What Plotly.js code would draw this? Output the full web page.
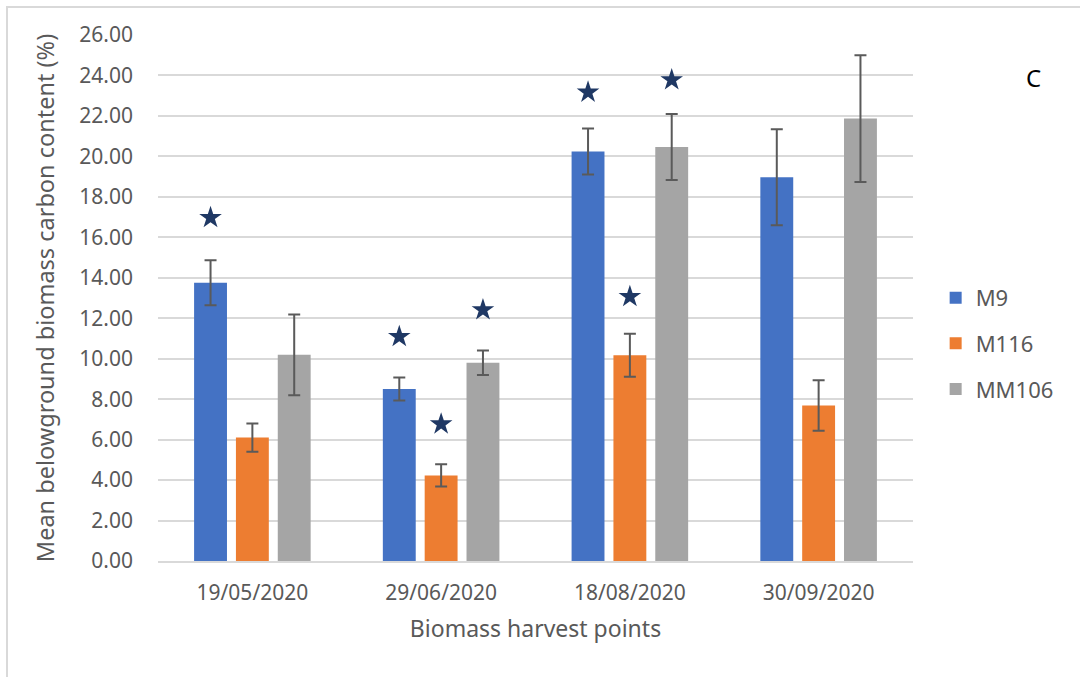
<!DOCTYPE html>
<html>
<head>
<meta charset="utf-8">
<script src="https://cdn.plot.ly/plotly-3.0.1.min.js"></script>
<style>
  html, body { margin: 0; padding: 0; background: #ffffff; }
  #frame { position: absolute; left: 6px; top: 6px; width: 1080px; height: 680px;
           border-left: 2px solid #d9d9d9; border-top: 2px solid #d9d9d9; box-sizing: border-box; pointer-events: none; }
  #chart { width: 1080px; height: 677px; }
</style>
</head>
<body>
<div id="chart"></div>
<div id="frame"></div>
<script>
// Harvest dates
const harvestDates = ['19/05/2020', '29/06/2020', '18/08/2020', '30/09/2020'];

// Mean belowground biomass carbon content (%) per rootstock
const m9Mean    = [13.75, 8.50, 20.24, 18.97];
const m116Mean  = [6.10, 4.23, 10.17, 7.69];
const mm106Mean = [10.19, 9.80, 20.46, 21.87];

// Error (±) per rootstock
const m9Err    = [1.11, 0.57, 1.14, 2.37];
const m116Err  = [0.70, 0.55, 1.06, 1.25];
const mm106Err = [2.00, 0.61, 1.63, 3.13];

// Significance star heights (null = no star)
const m9Star    = [16.97, 11.09, 23.17, null];
const m116Star  = [null, 6.77, 13.07, null];
const mm106Star = [null, 12.41, 23.78, null];

const seriesNames  = ['M9', 'M116', 'MM106'];
const seriesColors = ['#4472c4', '#ed7d31', '#a5a5a5'];
const means  = [m9Mean, m116Mean, mm106Mean];
const errs   = [m9Err, m116Err, mm106Err];
const stars  = [m9Star, m116Star, mm106Star];

const BARGAP = 0.335;
const BARGROUPGAP = 0.214;
const slot = (1 - BARGAP) / seriesNames.length;
const idx = harvestDates.map((_, i) => i);

const font = 'Noto Sans, Open Sans, sans-serif';
const grey = '#595959';

const traces = [];
seriesNames.forEach((name, k) => {
  traces.push({
    type: 'bar',
    name: name,
    x: idx,
    y: means[k],
    marker: { color: seriesColors[k] },
    error_y: { type: 'data', array: errs[k], visible: true, color: '#5a5a5a', thickness: 2, width: 6 },
    legendgroup: name,
    hoverinfo: 'y+name'
  });
});
seriesNames.forEach((name, k) => {
  const off = (k - (seriesNames.length - 1) / 2) * slot;
  traces.push({
    type: 'scatter',
    mode: 'markers',
    x: idx.map(i => i + off),
    y: stars[k],
    marker: { symbol: 'star', size: 17, color: '#1f3864' },
    showlegend: false,
    hoverinfo: 'skip'
  });
});

const layout = {
  width: 1080,
  height: 677,
  margin: { l: 158, r: 167, t: 35, b: 116 },
  paper_bgcolor: '#ffffff',
  plot_bgcolor: '#ffffff',
  barmode: 'group',
  bargap: BARGAP,
  bargroupgap: BARGROUPGAP,
  font: { family: font, color: grey, size: 21 },
  xaxis: {
    type: 'linear',
    range: [-0.5, harvestDates.length - 0.5],
    tickvals: idx,
    ticktext: harvestDates,
    showgrid: false,
    zeroline: false,
    showline: true,
    linecolor: '#d9d9d9',
    linewidth: 2,
    ticks: '',
    ticklabelstandoff: 12,
    tickfont: { family: font, size: 21, color: grey },
    title: { text: 'Biomass harvest points', font: { family: font, size: 23, color: grey }, standoff: 16 }
  },
  yaxis: {
    range: [0, 26],
    dtick: 2,
    tick0: 0,
    tickformat: '.2f',
    showgrid: true,
    gridcolor: '#d9d9d9',
    gridwidth: 2,
    zeroline: false,
    showline: false,
    ticks: '',
    ticklabelstandoff: 24,
    tickfont: { family: font, size: 21, color: grey },
    title: { text: 'Mean belowground biomass carbon content (%)', font: { family: font, size: 23.5, color: grey }, standoff: 18 }
  },
  legend: {
    x: 1.03, xanchor: 'left',
    y: 0.54, yanchor: 'top',
    traceorder: 'grouped',
    tracegroupgap: 14,
    font: { family: font, size: 22, color: grey },
    bgcolor: 'rgba(0,0,0,0)'
  },
  annotations: [{
    text: 'C',
    xref: 'paper', yref: 'paper',
    x: 1.16, y: 0.92,
    xanchor: 'center', yanchor: 'middle',
    showarrow: false,
    font: { family: font, size: 24, color: '#000000' }
  }],
  showlegend: true
};

Plotly.newPlot('chart', traces, layout, { displayModeBar: false, staticPlot: true });
</script>
</body>
</html>
